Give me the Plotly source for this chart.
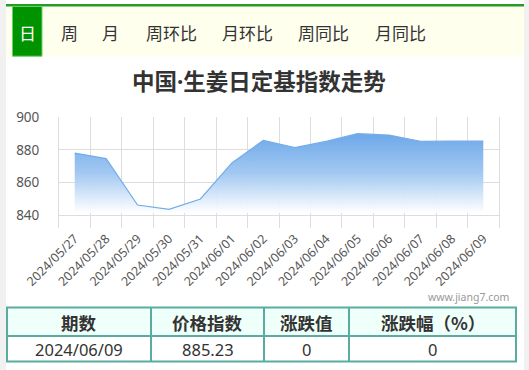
import plotly.graph_objects as go

dates = ["2024/05/27", "2024/05/28", "2024/05/29", "2024/05/30", "2024/05/31",
         "2024/06/01", "2024/06/02", "2024/06/03", "2024/06/04", "2024/06/05",
         "2024/06/06", "2024/06/07", "2024/06/08", "2024/06/09"]
index_values = [878.0, 874.6, 846.3, 843.7, 850.0, 872.0, 885.7, 881.3,
                885.1, 889.8, 889.0, 885.2, 885.23, 885.23]
fill_base = 841.5
y_ticks = [840, 860, 880, 900]

tabs = ["日", "周", "月", "周环比", "月环比", "周同比", "月同比"]
tab_centers_px = [27, 69.5, 110, 171, 247.5, 323.5, 400]

title = "中国·生姜日定基指数走势"
watermark = "www.jiang7.com"

table_header = ["期数", "价格指数", "涨跌值", "涨跌幅（%）"]
table_row = ["2024/06/09", "885.23", "0", "0"]
col_edges_px = [7, 151, 264, 349, 516]

W, H = 529, 370
PL, PR, PT, PB = 59, 499, 117, 228
CJK = "Noto Sans CJK SC"
LAT = "Noto Sans, Noto Sans CJK SC"


def px(x):
    return (x - PL) / (PR - PL)


def py(y):
    return (PB - y) / (PB - PT)


fig = go.Figure()
fig.add_trace(go.Scatter(x=dates, y=[fill_base] * len(dates), mode="lines",
                         line=dict(width=0), hoverinfo="skip", showlegend=False))
fig.add_trace(go.Scatter(
    x=dates, y=index_values, mode="lines", fill="tonexty",
    line=dict(color="#72ace8", width=1.2),
    fillgradient=dict(type="vertical",
                      colorscale=[[0, "rgba(255,255,255,0.95)"],
                                  [0.5, "rgba(160,199,241,0.97)"],
                                  [1, "rgba(106,166,233,0.98)"]]),
    showlegend=False))

shapes = []
# side gray strips
shapes.append(dict(type="rect", xref="paper", yref="paper", x0=px(0), x1=px(6),
                   y0=py(H), y1=py(0), fillcolor="#f1f1f1", line=dict(width=0), layer="below"))
shapes.append(dict(type="rect", xref="paper", yref="paper", x0=px(524), x1=px(W),
                   y0=py(H), y1=py(0), fillcolor="#f1f1f1", line=dict(width=0), layer="below"))
# tab bar
shapes.append(dict(type="rect", xref="paper", yref="paper", x0=px(6), x1=px(524),
                   y0=py(56.7), y1=py(6.3), fillcolor="#ffffee", line=dict(width=0), layer="below"))
shapes.append(dict(type="rect", xref="paper", yref="paper", x0=px(6), x1=px(524),
                   y0=py(6.5), y1=py(4), fillcolor="#259d25", line=dict(width=0), layer="below"))
shapes.append(dict(type="rect", xref="paper", yref="paper", x0=px(12.5), x1=px(42),
                   y0=py(56.2), y1=py(6.5), fillcolor="#009300",
                   line=dict(width=1, color="#6ccf6c"), layer="below"))
# table
shapes.append(dict(type="rect", xref="paper", yref="paper", x0=px(6), x1=px(516),
                   y0=py(336), y1=py(307.5), fillcolor="#effffa", line=dict(width=0), layer="below"))
bc = "#5aaba2"
shapes.append(dict(type="rect", xref="paper", yref="paper", x0=px(7), x1=px(516),
                   y0=py(361.5), y1=py(307.5), line=dict(width=2, color=bc)))
shapes.append(dict(type="line", xref="paper", yref="paper", x0=px(7), x1=px(516),
                   y0=py(336), y1=py(336), line=dict(width=2, color=bc)))
for e in col_edges_px[1:-1]:
    shapes.append(dict(type="line", xref="paper", yref="paper", x0=px(e), x1=px(e),
                       y0=py(361.5), y1=py(307.5), line=dict(width=2, color=bc)))

ann = []
for t, c in zip(tabs, tab_centers_px):
    ann.append(dict(text=t, x=px(c), y=py(32), xref="paper", yref="paper",
                    showarrow=False, xanchor="center", yanchor="middle",
                    font=dict(family=CJK, size=17,
                              color="#ffffff" if t == "日" else "#333333")))
ann.append(dict(text="<b>" + title + "</b>", x=px(259), y=py(81), xref="paper", yref="paper",
                showarrow=False, xanchor="center", yanchor="middle",
                font=dict(family=LAT, size=22.5, color="#333333")))
ann.append(dict(text=watermark, x=px(511), y=py(297), xref="paper", yref="paper",
                showarrow=False, xanchor="right", yanchor="middle",
                font=dict(family=LAT, size=10.5, color="#999999")))
for i in range(4):
    cx = (col_edges_px[i] + col_edges_px[i + 1]) / 2
    ann.append(dict(text="<b>" + table_header[i] + "</b>", x=px(cx), y=py(322), xref="paper",
                    yref="paper", showarrow=False, xanchor="center", yanchor="middle",
                    font=dict(family=CJK, size=17.5, color="#333333")))
    ann.append(dict(text=table_row[i], x=px(cx), y=py(349), xref="paper",
                    yref="paper", showarrow=False, xanchor="center", yanchor="middle",
                    font=dict(family=LAT, size=16.5, color="#333333")))

fig.update_layout(
    width=W, height=H,
    margin=dict(l=PL, r=W - PR, t=PT, b=H - PB, pad=0),
    paper_bgcolor="#ffffff", plot_bgcolor="#ffffff",
    shapes=shapes, annotations=ann, showlegend=False,
    xaxis=dict(type="category", range=[-0.5, len(dates) - 0.5], tickson="boundaries",
               showgrid=True, gridcolor="#dddddd", gridwidth=1, ticks="", ticklen=0,
               tickangle=-45, tickfont=dict(family=LAT, size=12.5, color="#555555"),
               showline=False, zeroline=False, fixedrange=True),
    yaxis=dict(range=[832.3, 900], tickvals=y_ticks, showgrid=True, gridcolor="#dddddd",
               gridwidth=1, showline=True, mirror=True, linecolor="#dddddd", linewidth=1,
               ticks="", tickfont=dict(family=LAT, size=13.5, color="#555555"),
               ticklabelstandoff=16, zeroline=False, fixedrange=True),
)
fig.write_html("out.html")
